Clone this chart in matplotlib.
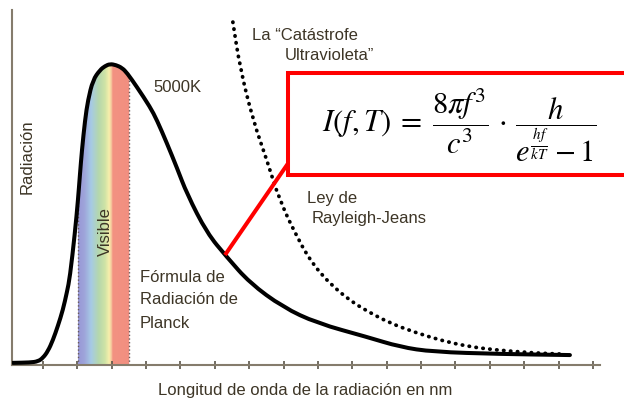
"""Planck radiation curve vs Rayleigh-Jeans, with the visible band"""

import numpy as np
import matplotlib
matplotlib.use('Agg')
import matplotlib.pyplot as plt
from matplotlib.colors import LinearSegmentedColormap
from matplotlib.patches import Polygon, Rectangle, PathPatch
from matplotlib.path import Path

plt.rcParams['font.family'] = ['Liberation Sans', 'DejaVu Sans']

###Data
#wavelength in nm, radiation in arbitrary units (0-100)
planck_wl = [25, 124, 171, 200, 229, 258, 287, 316, 340, 357, 386, 404, 415, 427, 445,
             462, 491, 532, 561, 590, 625, 660, 689, 747, 823, 863, 921, 980, 1038,
             1154, 1270, 1404, 1596, 1794, 2085, 2277, 2469, 2859, 3266]
planck_rad = [0.6, 0.7, 1.0, 2.0, 3.9, 7.0, 11.0, 15.5, 20.6, 24.8, 37.2, 46.5, 53.5, 60.6, 69.0,
              74.6, 80.3, 83.1, 84.2, 84.8, 84.5, 83.7, 82.3, 78.3, 72.7, 69.0, 62.5, 55.5, 48.2,
              37.2, 30.4, 23.1, 16.3, 11.8, 7.9, 5.1, 3.7, 3.1, 2.8]

rj_wl = [1305, 1346, 1422, 1503, 1579, 1695, 1753, 1812, 1887, 1986, 2085, 2219,
         2376, 2527, 2667, 2818, 3051, 3208]
rj_rad = [96.6, 83.9, 69.0, 57.7, 46.0, 34.5, 29.8, 26.0, 22.2, 18.2, 15.2, 11.8,
          9.0, 6.8, 5.3, 4.3, 3.4, 3.1]

visible = [404, 702]
xticks = list(range(200, 3401, 200))

xlabel = 'Longitud de onda de la radiación en nm'
ylabel = 'Radiación'

txtcol = '#3d3526'
axcol = '#857c6c'


def smooth_path(x, y):
    #quadratic bezier through the midpoints, the read points act as controls
    pts = np.column_stack([x, y])
    verts = [pts[0], (pts[0] + pts[1]) / 2]
    codes = [Path.MOVETO, Path.LINETO]
    for i in range(1, len(pts) - 1):
        verts += [pts[i], (pts[i] + pts[i + 1]) / 2]
        codes += [Path.CURVE3, Path.CURVE3]
    verts.append(pts[-1])
    codes.append(Path.LINETO)
    return Path(verts, codes)


fig = plt.figure(figsize=(6.24, 4.03), dpi=100)
W, H = 624, 403
ax = fig.add_axes([12/W, 38/H, 588/W, 355/H])
ax.set_xlim(20, 3441)
ax.set_ylim(0, 100)

#visible band as a colour gradient clipped under the curve
xs = np.linspace(visible[0], visible[1], 60)
ys = np.interp(xs, planck_wl, planck_rad)
verts = [(visible[0], 0)] + list(zip(xs, ys)) + [(visible[1], 0)]
clip = Polygon(verts, closed=True, facecolor='none', edgecolor='none')
ax.add_patch(clip)
cmap = LinearSegmentedColormap.from_list('vis', [
    (0.0, '#9898d6'), (0.12, '#9ea4da'), (0.25, '#a6cae6'), (0.40, '#b5d8ac'),
    (0.52, '#cfe3a6'), (0.60, '#f7f0ac'), (0.645, '#f6c49c'), (0.67, '#f29282'), (1.0, '#f28f80')])
grad = np.linspace(0, 1, 256).reshape(1, -1)
im = ax.imshow(grad, cmap=cmap, extent=[visible[0], visible[1], 0, 100], aspect='auto', zorder=1)
im.set_clip_path(clip)
for v in visible:
    ax.plot([v, v], [0, np.interp(v, planck_wl, planck_rad)], color='#6a5a5a', lw=1, ls=':', zorder=2)

ax.add_patch(PathPatch(smooth_path(planck_wl, planck_rad), facecolor='none', edgecolor='black',
                       lw=2.9, capstyle='round', joinstyle='round', zorder=3))
ax.add_patch(PathPatch(smooth_path(rj_wl, rj_rad), facecolor='none', edgecolor='black',
                       lw=2.7, linestyle=(0, (0.1, 1.75)), capstyle='round', zorder=3))

for s in ['top', 'right']:
    ax.spines[s].set_visible(False)
for s in ['left', 'bottom']:
    ax.spines[s].set_color(axcol)
    ax.spines[s].set_linewidth(1.5)
ax.set_xticks(xticks)
ax.set_xticklabels([])
ax.set_yticks([])
ax.tick_params(axis='x', direction='inout', length=6, width=1.2, color='#5a5448')

#overlay in pixel coordinates for labels and the formula box
ov = fig.add_axes([0, 0, 1, 1])
ov.set_xlim(0, W)
ov.set_ylim(H, 0)
ov.axis('off')

fs = 12
ov.text(27, 157, ylabel, rotation=90, ha='center', va='center', fontsize=fs, color=txtcol)
ov.text(305, 390, xlabel, ha='center', va='center', fontsize=fs, color=txtcol)
ov.text(105, 232, 'Visible', rotation=90, ha='center', va='center', fontsize=fs, color=txtcol)
ov.text(153, 88, '5000K', ha='left', va='center', fontsize=fs, color=txtcol)
ov.text(252, 36, 'La \u201cCatástrofe', ha='left', va='center', fontsize=fs, color=txtcol)
ov.text(285, 56, 'Ultravioleta\u201d', ha='left', va='center', fontsize=fs, color=txtcol)
ov.text(307, 199, 'Ley de', ha='left', va='center', fontsize=fs, color=txtcol)
ov.text(312, 218, 'Rayleigh-Jeans', ha='left', va='center', fontsize=fs, color=txtcol)
ov.text(140, 278, 'Fórmula de', ha='left', va='center', fontsize=fs, color=txtcol)
ov.text(140, 300, 'Radiación de', ha='left', va='center', fontsize=fs, color=txtcol)
ov.text(140, 323, 'Planck', ha='left', va='center', fontsize=fs, color=txtcol)

ov.plot([225, 289], [255, 162], color='#ff0000', lw=2.9, solid_capstyle='butt')
ov.add_patch(Rectangle((288, 73), 400, 102, facecolor='white', edgecolor='#ff0000', lw=2.9, zorder=4))
ov.text(459, 125, r'$I(f,T)\;=\;\dfrac{8\pi f^3}{c^3}\,\cdot\,\dfrac{h}{e^{\frac{hf}{kT}}-1}$',
        ha='center', va='center', fontsize=22, math_fontfamily='stix', color='black', zorder=5)

fig.savefig('out.png', dpi=100)
